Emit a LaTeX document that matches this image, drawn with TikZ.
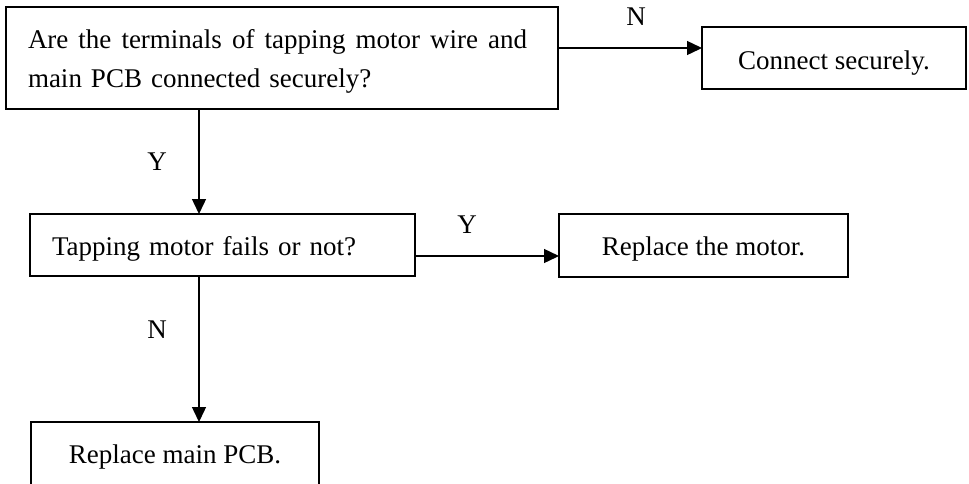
\documentclass[tikz,border=0pt]{standalone}
\usepackage{fontspec}
\setmainfont{Liberation Serif}
\usetikzlibrary{arrows.meta}
\begin{document}
\begin{tikzpicture}[x=1pt,y=-1pt,
  box/.style={draw=black,line width=1.6pt,inner sep=0pt,outer sep=0pt,
    font=\fontsize{27}{39}\selectfont},
  lbl/.style={inner sep=0pt,font=\fontsize{27}{30}\selectfont},
  arr/.style={line width=1.4pt,-{Triangle[length=15pt,width=14pt]}}]
\useasboundingbox (0,0) rectangle (969,483);
\clip (0,0) rectangle (969,483);
% boxes
\node[box,minimum width=552pt,minimum height=102pt,text width=508pt,align=left]
  (q1) at (282,58) {\rule{0pt}{26.5pt}\hbox to 499pt{Are\hfill the\hfill terminals\hfill of\hfill tapping\hfill motor\hfill wire\hfill and}\\main PCB connected securely?};
\node[box,minimum width=264pt,minimum height=62pt,text height=30pt,text depth=6.8pt] (fix1) at (834,58) {Connect securely.};
\node[box,minimum width=385pt,minimum height=62pt,text width=341pt,align=left,text height=28pt,text depth=6.8pt]
  (q2) at (222.5,245) {Tapping motor fails or not?};
\node[box,minimum width=289pt,minimum height=63pt,text height=27pt,text depth=6.8pt] (fix2) at (703.5,245.5) {Replace the motor.};
\node[box,minimum width=288pt,minimum height=74pt,text height=18pt,text depth=8.8pt] (fix3) at (175,459) {Replace main PCB.};
% helper coordinates
\coordinate (h1) at (0,48);
\coordinate (h2) at (0,256);
\coordinate (vx) at (199,0);
% connectors
\draw[arr] (q1.east |- h1) -- (fix1.west |- h1);
\draw[arr] (vx |- q1.south) -- (vx |- q2.north);
\draw[arr] (q2.east |- h2) -- (fix2.west |- h2);
\draw[arr] (vx |- q2.south) -- (vx |- fix3.north);
% labels
\node[lbl] (l1) at (636,17) {N};
\node[lbl] (l2) at (157,162) {Y};
\node[lbl] (l3) at (467,225) {Y};
\node[lbl] (l4) at (157,330) {N};
\end{tikzpicture}
\end{document}
